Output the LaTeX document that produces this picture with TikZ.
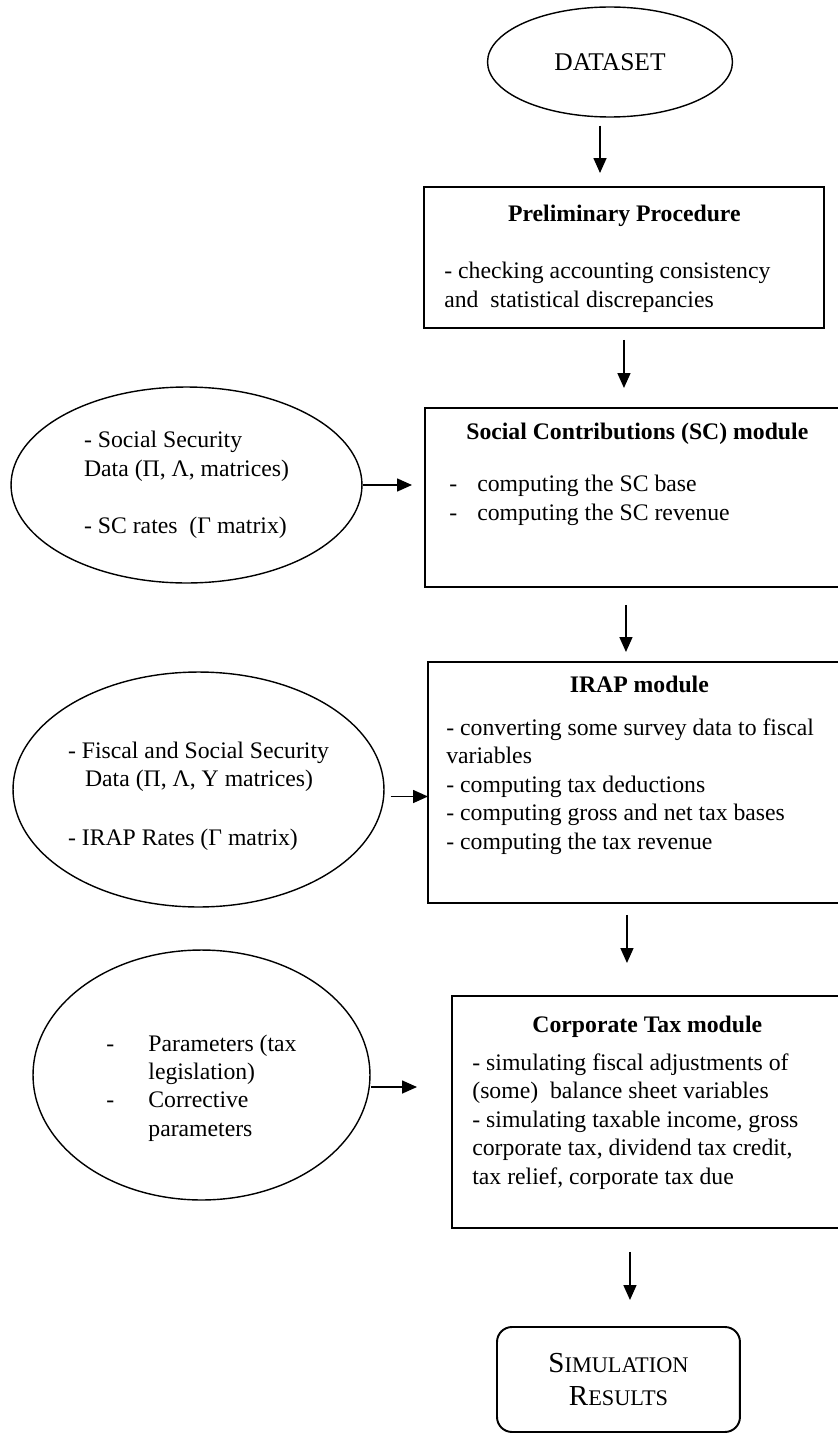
\documentclass[tikz,border=0pt]{standalone}
\usepackage{fontspec}
\setmainfont{Liberation Serif}
\usetikzlibrary{arrows.meta,calc,shapes.geometric}
\def\capletter#1{{\fontsize{16.5}{18.7}\selectfont #1}}
\tikzset{
	datanode/.style={ellipse, draw, line width=0.8pt, inner sep=0pt, align=left},
	modbox/.style={rectangle, draw, line width=1.1pt, inner sep=0pt, outer sep=0pt, anchor=north west},
	modtext/.style={anchor=base west, align=left, inner sep=0pt},
	flow/.style={-{Triangle[length=0.3cm,width=0.26cm]}, line width=0.9pt},
}

\begin{document}
\begin{tikzpicture}[x=0.02cm, y=-0.02cm, font=\fontsize{13.5}{16.2}\selectfont]
		%%%%% START %%%%%
		\useasboundingbox (0,0) rectangle (838,1433);
		\clip (0,0) rectangle (838,1433);
		
		% main chain
		\node[datanode, minimum width=4.9cm, minimum height=2.2cm, align=center] (dataset) at (610,62) {\fontsize{14.5}{17}\selectfont DATASET};
		
		\node[modbox, minimum width=8cm, minimum height=2.82cm] (prelim) at (424,187) {};
		\node[modtext] (prelimtext) at (444,307) {\makebox[7.2cm]{\textbf{Preliminary Procedure}}\\[0.57cm]- checking accounting consistency\\and\ \ statistical discrepancies};
		
		\node[modbox, minimum width=8.3cm, minimum height=3.58cm] (scbox) at (425,408) {};
		\node[modtext] (sctext) at (449,520) {\makebox[7.52cm]{\textbf{Social Contributions (SC) module}}\\[0.47cm]\makebox[0.56cm][l]{-}computing the SC base\\\makebox[0.56cm][l]{-}computing the SC revenue};
		
		\node[modbox, minimum width=8.24cm, minimum height=4.82cm] (irapbox) at (428,662) {};
		\node[modtext] (iraptext) at (446,849) {\makebox[7.72cm]{\textbf{IRAP module}}\\[0.29cm]- converting some survey data to fiscal\\variables\\- computing tax deductions\\- computing gross and net tax bases\\- computing the tax revenue};
		
		\node[modbox, minimum width=7.76cm, minimum height=4.64cm] (corpbox) at (452,996) {};
		\node[modtext] (corptext) at (472,1184) {\makebox[7cm]{\textbf{Corporate Tax module}}\\[0.19cm]- simulating fiscal adjustments of\\(some)\ \ balance sheet variables\\- simulating taxable income, gross\\corporate tax, dividend tax credit,\\tax relief, corporate tax due};
		
		\node[modbox, rounded corners=0.3cm, minimum width=4.86cm, minimum height=2.1cm, align=center, font=\fontsize{12.7}{18.7}\selectfont] (simres) at (497,1327) {\capletter{S}IMULATION\\\capletter{R}ESULTS};
		
		% inputs
		\node[datanode, minimum width=7.02cm, minimum height=3.92cm] (scdata) at (186.5,485) {- Social Security\\Data (Π, Λ, matrices)\\[0.57cm]- SC rates\ \ (Γ matrix)};
		\node[datanode, minimum width=7.42cm, minimum height=4.7cm] (irapdata) at (198.5,789.5) {\rule{0pt}{0.6cm}- Fiscal and Social Security\\\hspace*{0.34cm}Data (Π, Λ, Υ matrices)\\[0.6cm]- IRAP Rates (Γ matrix)};
		\node[datanode, minimum width=6.74cm, minimum height=5cm] (corpdata) at (201.5,1075) {\rule{0pt}{0.85cm}\makebox[0.84cm][l]{-}Parameters (tax\\\hspace*{0.84cm}legislation)\\\makebox[0.84cm][l]{-}Corrective\\\hspace*{0.84cm}parameters};
		
		% arrows
		\draw[flow, shorten <=0.16cm, shorten >=0.28cm] ([xshift=-0.2cm]dataset.south) -- ([xshift=-0.2cm]dataset.south |- prelim.north);
		\draw[flow, shorten <=0.24cm, shorten >=0.4cm] (prelim.south) -- (prelim.south |- scbox.north);
		\draw[flow, shorten <=0.36cm, shorten >=0.2cm] ([xshift=-0.13cm]scbox.south) -- ([xshift=-0.13cm]scbox.south |- irapbox.north);
		\draw[flow, shorten <=0.24cm, shorten >=0.66cm] ([xshift=-0.14cm]irapbox.south) -- ([xshift=-0.14cm]irapbox.south |- corpbox.north);
		\draw[flow, shorten <=0.48cm, shorten >=0.54cm] ([xshift=-0.32cm]corpbox.south) -- ([xshift=-0.32cm]corpbox.south |- simres.north);
		
		\draw[flow, shorten >=0.26cm] (scdata.east) -- (scdata.east -| scbox.west);
		\draw[flow, shorten <=0.12cm] ([yshift=-0.14cm]irapdata.east) -- ([yshift=-0.14cm]irapdata.east -| irapbox.west);
		\draw[flow, shorten >=0.7cm] ([yshift=-0.24cm]corpdata.east) -- ([yshift=-0.24cm]corpdata.east -| corpbox.west);
		
		%%%%% END %%%%%
\end{tikzpicture}
\end{document}
